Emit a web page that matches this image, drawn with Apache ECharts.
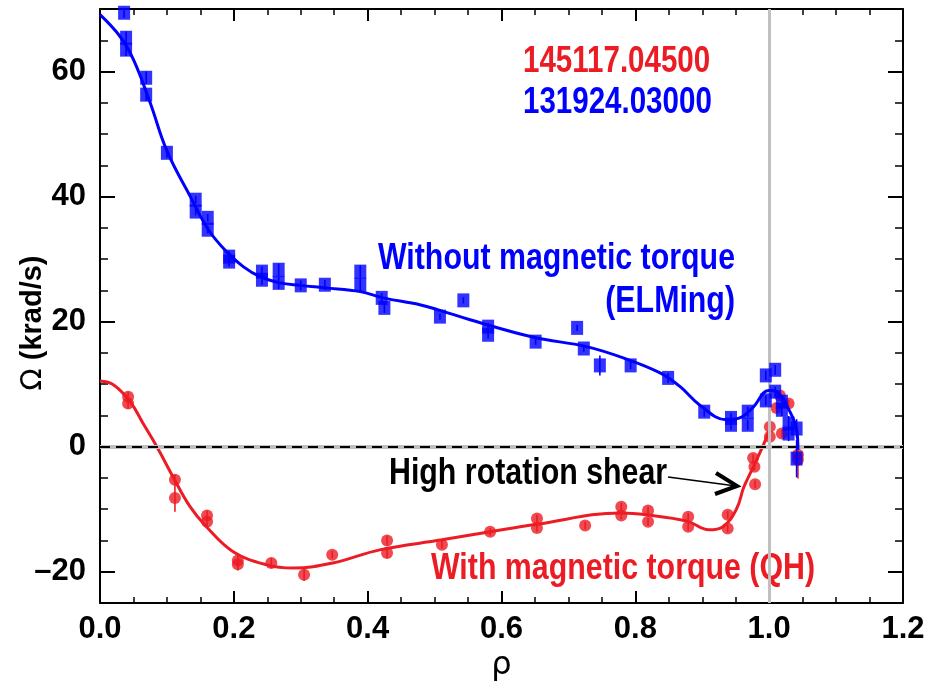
<!DOCTYPE html>
<html>
<head>
<meta charset="utf-8">
<script src="https://cdn.jsdelivr.net/npm/echarts@6/dist/echarts.min.js"></script>
<style>
  html, body { margin: 0; padding: 0; background: #fff; }
  #main { width: 928px; height: 688px; }
</style>
</head>
<body>
<div id="main"></div>
<script>
var SANS = '"Liberation Sans", Arial, Helvetica, sans-serif';
var SQUEEZE = 0.82;   // the plot uses a narrow Helvetica
var RED = '#ec1c24';
var BLUE = '#0000ff';

// 131924.03000 : without magnetic torque (ELMing)
var blueRho   = [0.036, 0.039, 0.039, 0.069, 0.069, 0.100, 0.143, 0.143, 0.161, 0.161, 0.193, 0.193,
                 0.242, 0.242, 0.267, 0.267, 0.300, 0.336, 0.389, 0.389, 0.421, 0.425, 0.508, 0.543,
                 0.580, 0.580, 0.651, 0.713, 0.723, 0.747, 0.793, 0.849, 0.903, 0.943, 0.943, 0.968,
                 0.968, 0.995, 1.009, 0.995, 1.009, 1.019, 1.019, 1.029, 1.029, 1.041, 1.041];
var blueOmega = [69.4, 65.4, 63.5, 59.0, 56.3, 47.0, 39.5, 37.6, 36.6, 34.7, 30.4, 29.6,
                 28.0, 26.7, 28.3, 26.2, 25.8, 25.9, 28.0, 25.9, 23.8, 22.2, 20.8, 23.4,
                 19.2, 17.9, 16.8, 19.0, 15.7, 13.0, 13.0, 11.0, 5.6, 4.6, 3.5, 5.6,
                 3.5, 11.4, 12.3, 7.4, 8.8, 7.2, 5.9, 3.7, 2.1, 2.9, -1.9];
var blueErr   = [0.8, 1.0, 1.0, 1.0, 1.0, 0.8, 0.6, 0.6, 0.6, 0.6, 0.8, 0.8,
                 0.8, 0.8, 1.0, 1.0, 0.8, 0.8, 1.0, 1.0, 0.8, 0.8, 0.5, 0.5,
                 0.6, 0.6, 0.5, 0.5, 0.5, 1.6, 0.6, 0.8, 0.8, 0.8, 0.8, 0.8,
                 0.8, 0.8, 0.8, 0.8, 0.8, 0.8, 1.0, 1.2, 1.2, 1.5, 3.0];
var blueFitRho   = [0.000, 0.030, 0.050, 0.075, 0.100, 0.135, 0.162, 0.189, 0.214, 0.239, 0.269, 0.299,
                    0.336, 0.389, 0.423, 0.478, 0.508, 0.553, 0.648, 0.727, 0.787, 0.837, 0.867, 0.897,
                    0.936, 0.956, 0.976, 0.999, 1.011, 1.031, 1.041, 1.043];
var blueFitOmega = [69.1, 65.6, 61.9, 55.0, 47.3, 40.0, 34.7, 31.2, 28.8, 27.2, 26.2, 25.8,
                    25.4, 24.8, 23.8, 22.7, 21.8, 20.3, 17.5, 16.0, 14.0, 11.8, 9.6, 6.6,
                    4.3, 4.6, 6.3, 9.0, 8.8, 5.6, 2.7, -0.5];

// 145117.04500 : with magnetic torque (QH)
var redRho   = [0.042, 0.042, 0.112, 0.112, 0.160, 0.160, 0.206, 0.206, 0.256, 0.305, 0.347, 0.429,
                0.429, 0.511, 0.583, 0.653, 0.653, 0.725, 0.779, 0.779, 0.819, 0.819, 0.879, 0.879,
                0.938, 0.938, 0.976, 0.978, 0.979, 1.001, 1.001, 1.016, 1.011, 1.029, 1.019, 1.043, 1.043];
var redOmega = [8.0, 6.9, -5.3, -8.2, -11.0, -12.0, -18.2, -18.8, -18.6, -20.5, -17.3, -15.0,
                -17.0, -15.7, -13.6, -11.5, -13.0, -12.6, -9.6, -11.0, -10.2, -12.0, -11.2, -12.8,
                -10.9, -13.1, -1.8, -3.2, -6.0, 3.2, 1.6, 8.2, 6.2, 6.9, 2.1, -1.3, -2.1];
var redErr   = [0.8, 0.8, 0.8, 2.2, 0.8, 0.8, 1.0, 1.0, 0.8, 1.0, 0.6, 0.8,
                0.8, 0.6, 0.6, 0.6, 0.6, 0.6, 0.6, 0.6, 0.6, 0.6, 0.6, 0.6,
                0.6, 0.6, 0.6, 0.6, 0.6, 0.6, 0.6, 0.6, 0.6, 0.6, 0.6, 0.6, 3.0];
var redFitRho   = [0.000, 0.020, 0.045, 0.064, 0.085, 0.109, 0.134, 0.159, 0.199, 0.249, 0.289, 0.348,
                   0.418, 0.511, 0.583, 0.653, 0.779, 0.817, 0.877, 0.910, 0.931, 0.951, 0.962, 0.972,
                   0.986, 1.001];
var redFitOmega = [10.5, 9.9, 7.2, 3.8, 0.0, -4.8, -9.5, -12.8, -16.8, -18.9, -19.4, -18.6,
                   -16.5, -14.9, -13.6, -12.4, -10.6, -10.9, -11.9, -13.3, -12.8, -10.0, -6.5, -4.2,
                   -1.0, 2.7];

var xTickLabels = ['0.0', '0.2', '0.4', '0.6', '0.8', '1.0', '1.2'];
var rhoRange = [0, 1.2];
var omegaRange = [-25, 70];

function pairs(xs, ys) {
  return xs.map(function (x, i) { return [x, ys[i]]; });
}
function bars(xs, ys, es) {
  return xs.map(function (x, i) { return [x, ys[i] - es[i], ys[i] + es[i]]; });
}
function errorBar(color) {
  return function (params, api) {
    var lo = api.coord([api.value(0), api.value(1)]);
    var hi = api.coord([api.value(0), api.value(2)]);
    return {
      type: 'line',
      shape: { x1: lo[0], y1: lo[1], x2: hi[0], y2: hi[1] },
      style: { stroke: color, lineWidth: 1.6 }
    };
  };
}
function label(text, x, y, color, align) {
  return {
    type: 'text', x: x, y: y, scaleX: SQUEEZE,
    style: { text: text, fill: color, font: 'bold 37px ' + SANS, align: align || 'left', verticalAlign: 'middle' }
  };
}
function hline(v, style) {
  return [{ coord: [rhoRange[0], v], lineStyle: style }, { coord: [rhoRange[1], v] }];
}
function vline(v, style) {
  return [{ coord: [v, omegaRange[0]], lineStyle: style }, { coord: [v, omegaRange[1]] }];
}

var black = { color: '#000', width: 2 };
var minorStyle = { color: '#000', width: 1.5 };
var chart = echarts.init(document.getElementById('main'));

chart.setOption({
  animation: false,
  backgroundColor: '#fff',
  grid: [
    { left: 100, right: 25, top: 9, bottom: 85 },
    // same box cut at -20, only carries the y ticks and labels
    { left: 100, right: 25, top: 9, bottom: 116.3 }
  ],
  xAxis: [
    {
      gridIndex: 0, type: 'value', min: rhoRange[0], max: rhoRange[1], interval: 0.2, position: 'bottom',
      axisLine: { onZero: false, lineStyle: black },
      axisTick: { inside: true, length: 12, lineStyle: black },
      minorTick: { show: true, splitNumber: 4, length: 6, lineStyle: minorStyle },
      splitLine: { show: false },
      axisLabel: {
        margin: 11, color: '#000', fontFamily: SANS, fontWeight: 'bold', fontSize: 31,
        formatter: function (v) { return xTickLabels[Math.round(v / 0.2)]; }
      },
      name: 'ρ', nameLocation: 'middle', nameGap: 46,
      nameTextStyle: { color: '#000', fontFamily: 'DejaVu Sans', fontSize: 32 }
    },
    {
      gridIndex: 0, type: 'value', min: rhoRange[0], max: rhoRange[1], interval: 0.2, position: 'top',
      axisLine: { onZero: false, lineStyle: black },
      axisTick: { inside: true, length: 12, lineStyle: black },
      minorTick: { show: true, splitNumber: 4, length: 6, lineStyle: minorStyle },
      splitLine: { show: false },
      axisLabel: { show: false }
    },
    { gridIndex: 1, type: 'value', min: rhoRange[0], max: rhoRange[1], show: false }
  ],
  yAxis: [
    {
      gridIndex: 0, type: 'value', min: omegaRange[0], max: omegaRange[1], position: 'left',
      axisLine: { show: true, onZero: false, lineStyle: black },
      axisTick: { show: false }, axisLabel: { show: false }, splitLine: { show: false }
    },
    {
      gridIndex: 0, type: 'value', min: omegaRange[0], max: omegaRange[1], position: 'right',
      axisLine: { show: true, onZero: false, lineStyle: black },
      axisTick: { show: false }, axisLabel: { show: false }, splitLine: { show: false }
    },
    {
      gridIndex: 1, type: 'value', min: -20, max: omegaRange[1], interval: 20, position: 'left',
      axisLine: { show: false, onZero: false },
      axisTick: { inside: true, length: 15, lineStyle: black },
      minorTick: { show: true, splitNumber: 4, length: 8, lineStyle: minorStyle },
      splitLine: { show: false },
      axisLabel: {
        margin: 14, color: '#000', fontFamily: SANS, fontWeight: 'bold', fontSize: 31,
        showMaxLabel: false,
        formatter: function (v) { return v < 0 ? '\u2013' + (-v) : String(v); }
      }
    },
    {
      gridIndex: 1, type: 'value', min: -20, max: omegaRange[1], interval: 20, position: 'right',
      axisLine: { show: false, onZero: false },
      axisTick: { inside: true, length: 15, lineStyle: black },
      minorTick: { show: true, splitNumber: 4, length: 8, lineStyle: minorStyle },
      splitLine: { show: false },
      axisLabel: { show: false }
    }
  ],
  series: [
    {
      // reference lines: rho = 1 and omega = 0
      type: 'line', xAxisIndex: 0, yAxisIndex: 0, data: [], z: 1, silent: true,
      markLine: {
        symbol: 'none', silent: true, animation: false, label: { show: false },
        data: [
          vline(1.0, { color: '#c0c0c0', width: 3, type: 'solid' }),
          hline(0, { color: '#c0c0c0', width: 4, type: 'solid' }),
          hline(0, { color: '#000', width: 2, type: [10, 6] })
        ]
      }
    },
    {
      type: 'custom', xAxisIndex: 0, yAxisIndex: 0, z: 3,
      renderItem: errorBar(RED), encode: { x: 0, y: [1, 2] },
      data: bars(redRho, redOmega, redErr)
    },
    {
      type: 'scatter', xAxisIndex: 0, yAxisIndex: 0, z: 3,
      symbol: 'circle', symbolSize: 12, itemStyle: { color: RED },
      data: pairs(redRho, redOmega)
    },
    {
      type: 'line', xAxisIndex: 0, yAxisIndex: 0, z: 4, smooth: 0.4,
      showSymbol: false, lineStyle: { color: RED, width: 3 },
      data: pairs(redFitRho, redFitOmega)
    },
    {
      type: 'custom', xAxisIndex: 0, yAxisIndex: 0, z: 5,
      renderItem: errorBar(BLUE), encode: { x: 0, y: [1, 2] },
      data: bars(blueRho, blueOmega, blueErr)
    },
    {
      type: 'scatter', xAxisIndex: 0, yAxisIndex: 0, z: 5,
      symbol: 'rect', symbolSize: [12, 14], itemStyle: { color: BLUE },
      data: pairs(blueRho, blueOmega)
    },
    {
      type: 'line', xAxisIndex: 0, yAxisIndex: 0, z: 6, smooth: 0.4,
      showSymbol: false, lineStyle: { color: BLUE, width: 3 },
      data: pairs(blueFitRho, blueFitOmega)
    }
  ],
  graphic: [
    {
      type: 'text', x: 33, y: 323, rotation: Math.PI / 2,
      style: {
        text: '{o|Ω} (krad/s)', fill: '#000', align: 'center', verticalAlign: 'middle',
        font: 'bold 29px ' + SANS,
        rich: { o: { fontFamily: 'DejaVu Sans', fontWeight: 'normal', fontSize: 29 } }
      }
    },
    {
      type: 'text', x: 523, y: 62, scaleX: SQUEEZE,
      style: { text: '145117.04500', fill: RED, font: 'bold 36px ' + SANS, verticalAlign: 'middle' }
    },
    {
      type: 'text', x: 523, y: 103, scaleX: SQUEEZE,
      style: { text: '131924.03000', fill: BLUE, font: 'bold 36px ' + SANS, verticalAlign: 'middle' }
    },
    label('Without magnetic torque', 735, 259, BLUE, 'right'),
    label('(ELMing)', 735, 302, BLUE, 'right'),
    label('High rotation shear', 389, 474, '#000'),
    label('With magnetic torque (QH)', 431, 569, RED),
    { type: 'line', shape: { x1: 668, y1: 477, x2: 736, y2: 486 }, style: { stroke: '#000', lineWidth: 1.6 } },
    { type: 'polyline', shape: { points: [[716, 473], [737, 486], [715, 494]] }, style: { stroke: '#000', lineWidth: 4, fill: null } }
  ]
});
</script>
</body>
</html>
